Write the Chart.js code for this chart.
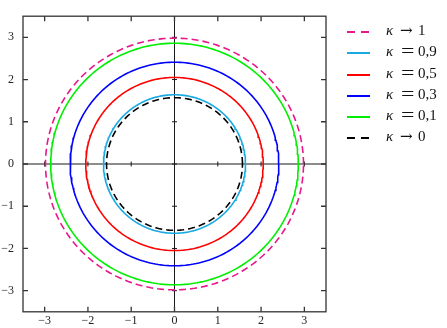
<!DOCTYPE html>
<html>
<head>
<meta charset="utf-8">
<script src="https://cdn.jsdelivr.net/npm/chart.js@4.4.1/dist/chart.umd.min.js"></script>
<style>
  body { margin: 0; background: #fff; }
  #wrap { position: relative; width: 447px; height: 328px; }
  .leg { position: absolute; left: 347px; width: 100px; height: 20px; font-family: "Liberation Serif", serif; font-size: 15px; color: #111; white-space: nowrap; }
  .leg svg { position: absolute; left: 0; top: 8px; }
  .leg .k { position: absolute; left: 39px; top: 0; font-style: italic; }
  .leg .op { position: absolute; left: 54px; top: -3px; font-size: 19px; transform: scaleX(1.25); transform-origin: left center; }
  .leg .arr { position: absolute; left: 53px; top: -1px; font-family: "DejaVu Serif", serif; font-size: 15px; }
  .leg .v { position: absolute; left: 71px; top: 0; }
</style>
</head>
<body>
<div id="wrap">
  <canvas id="c"></canvas>
  <div id="legend"></div>
</div>
<script>
// radius of each curve
const labels = ["κ → 1", "κ = 0,9", "κ = 0,5", "κ = 0,3", "κ = 0,1", "κ → 0"];
const radii = [2.98, 1.64, 2.05, 2.41, 2.86, 1.57];
const colors = ["#e8178a", "#19a9e3", "#ff0000", "#0000ff", "#00ee00", "#000000"];
const dashed = [true, false, false, false, false, true];
const xTicks = [-3, -2, -1, 0, 1, 2, 3];
const yTicks = [-3, -2, -1, 0, 1, 2, 3];

// points of a circle with radius r
function circle(r) {
  const pts = [];
  for (let i = 0; i <= 240; i++) {
    const a = i / 240 * 2 * Math.PI;
    pts.push({ x: r * Math.cos(a), y: r * Math.sin(a) });
  }
  return pts;
}

const datasets = radii.map(function (r, i) {
  return {
    label: labels[i],
    data: circle(r),
    showLine: true,
    borderColor: colors[i],
    borderWidth: 1.6,
    borderDash: dashed[i] ? [7, 4] : [],
    pointRadius: 0,
    fill: false
  };
});

function minus(v) {
  return v < 0 ? "\u2212" + Math.abs(v) : String(v);
}

// box, inner ticks and the axes through 0
const frame = {
  id: "frame",
  beforeDatasetsDraw(chart) {
    const { ctx, chartArea: a, scales: { x, y } } = chart;
    const x0 = x.getPixelForValue(0), y0 = y.getPixelForValue(0);
    ctx.save();
    ctx.strokeStyle = "#1a1a1a";
    ctx.lineWidth = 1;
    ctx.beginPath();
    ctx.moveTo(a.left, y0); ctx.lineTo(a.right, y0);
    ctx.moveTo(x0, a.top); ctx.lineTo(x0, a.bottom);
    xTicks.forEach(v => {
      const px = x.getPixelForValue(v);
      ctx.moveTo(px, y0 - 2.5); ctx.lineTo(px, y0 + 2.5);
    });
    yTicks.forEach(v => {
      const py = y.getPixelForValue(v);
      ctx.moveTo(x0 - 2.5, py); ctx.lineTo(x0 + 2.5, py);
    });
    ctx.stroke();
    ctx.restore();
  },
  afterDraw(chart) {
    const { ctx, chartArea: a, scales: { x, y } } = chart;
    ctx.save();
    ctx.strokeStyle = "#333";
    ctx.lineWidth = 1.3;
    ctx.strokeRect(a.left, a.top, a.right - a.left, a.bottom - a.top);
    ctx.beginPath();
    xTicks.forEach(v => {
      const px = x.getPixelForValue(v);
      ctx.moveTo(px, a.bottom); ctx.lineTo(px, a.bottom - 5);
      ctx.moveTo(px, a.top); ctx.lineTo(px, a.top + 5);
    });
    yTicks.forEach(v => {
      const py = y.getPixelForValue(v);
      ctx.moveTo(a.left, py); ctx.lineTo(a.left + 5, py);
      ctx.moveTo(a.right, py); ctx.lineTo(a.right - 5, py);
    });
    ctx.stroke();
    ctx.restore();
  }
};

const tickFont = { family: "Liberation Serif", size: 12 };

new Chart(document.getElementById("c"), {
  type: "scatter",
  data: { datasets: datasets },
  options: {
    responsive: true,
    maintainAspectRatio: false,
    animation: false,
    layout: { padding: { left: 0, top: 11, right: 121, bottom: 0 } },
    plugins: { legend: { display: false }, tooltip: { enabled: false } },
    scales: {
      x: {
        type: "linear", min: -3.5, max: 3.5,
        afterBuildTicks: s => { s.ticks = xTicks.map(v => ({ value: v })); },
        afterFit: s => { s.height = 15; },
        grid: { display: false, drawTicks: false },
        border: { display: false },
        ticks: { font: tickFont, color: "#222", padding: 2, autoSkip: false, maxRotation: 0, callback: minus }
      },
      y: {
        type: "linear", min: -3.5, max: 3.5,
        afterBuildTicks: s => { s.ticks = yTicks.map(v => ({ value: v })); },
        afterFit: s => { s.width = 23; },
        grid: { display: false, drawTicks: false },
        border: { display: false },
        ticks: { font: tickFont, color: "#222", padding: 9, autoSkip: false, callback: minus }
      }
    }
  },
  plugins: [frame]
});

// legend at the right
const rowTops = [22, 43, 65, 86, 107, 128];
const legend = document.getElementById("legend");
labels.forEach(function (t, i) {
  const parts = t.split(" ");
  const d = document.createElement("div");
  d.className = "leg";
  d.style.top = rowTops[i] + "px";
  const dash = dashed[i] ? ' stroke-dasharray="8 6"' : "";
  const opClass = parts[1] === "=" ? "op" : "arr";
  d.innerHTML = '<svg width="24" height="4"><line x1="0" y1="2" x2="23" y2="2" stroke="' + colors[i] +
    '" stroke-width="2"' + dash + '/></svg><span class="k">' + parts[0] + '</span> <span class="' + opClass + '">' +
    parts[1] + '</span> <span class="v">' + parts[2] + '</span>';
  legend.appendChild(d);
});
</script>
</body>
</html>
